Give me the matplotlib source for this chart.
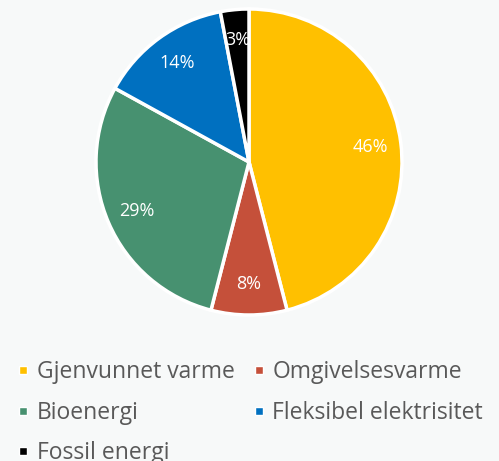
import matplotlib
matplotlib.use("Agg")
import matplotlib.pyplot as plt
from matplotlib.lines import Line2D

# data
categories = ["Gjenvunnet varme", "Omgivelsesvarme", "Bioenergi",
              "Fleksibel elektrisitet", "Fossil energi"]
shares = [46, 8, 29, 14, 3]
colors = ["#FFC000", "#C5503A", "#479170", "#0070C0", "#000000"]

bg = "#F7F9F9"
text_grey = "#595959"

plt.rcParams["font.family"] = ["Open Sans", "DejaVu Sans"]

fig = plt.figure(figsize=(4.99, 4.61), dpi=100, facecolor=bg)

# pie axes: centre ~ (249,162) px, radius ~153 px
ax = fig.add_axes([96 / 499, 146 / 461, 306 / 499, 306 / 461])
ax.set_facecolor(bg)
wedges, texts, autotexts = ax.pie(
    shares, colors=colors, startangle=90, counterclock=False,
    autopct="%d%%", pctdistance=0.8,
    wedgeprops=dict(edgecolor="white", linewidth=2.5),
    textprops=dict(color="white", fontsize=13),
)
ax.set_aspect("equal")
ax.set_xlim(-1, 1)
ax.set_ylim(-1, 1)

# legend below, two columns filled row by row (matplotlib fills by column)
# the last row is clipped by the bottom edge, as in the reference
handles = [Line2D([0], [0], marker="s", linestyle="none", markersize=6,
                  markerfacecolor=c, markeredgecolor="white", markeredgewidth=1)
           for c in colors]
order = [0, 2, 4, 1, 3]
leg = fig.legend([handles[i] for i in order], [categories[i] for i in order],
                 ncol=2, loc="upper left",
                 bbox_to_anchor=(8 / 499, 1 - 351 / 461), frameon=False,
                 fontsize=16.5, handlelength=0.55, handletextpad=0.3,
                 columnspacing=0.8, labelspacing=0.72, borderaxespad=0)
for t in leg.get_texts():
    t.set_color(text_grey)

fig.savefig("out.png", dpi=100, facecolor=bg)
